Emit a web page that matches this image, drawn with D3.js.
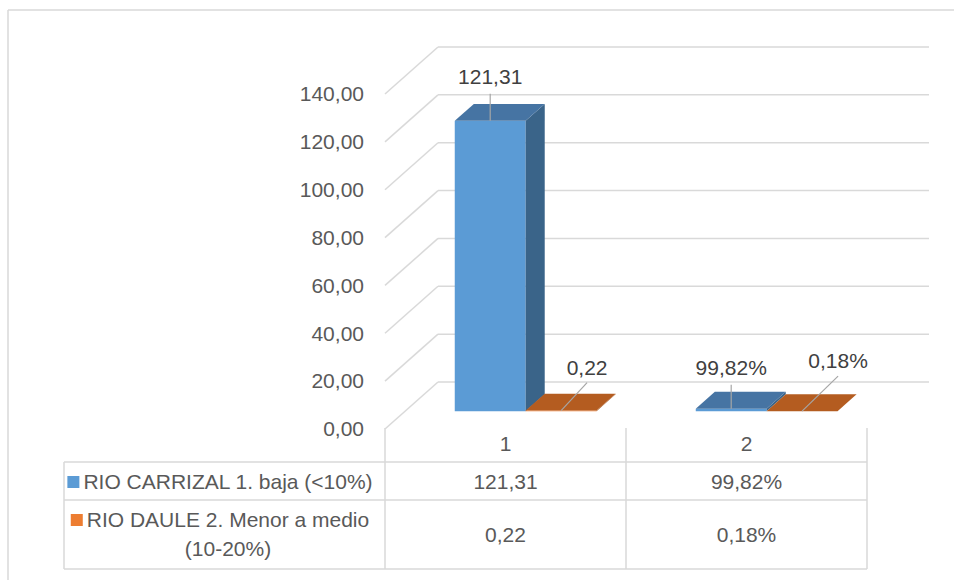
<!DOCTYPE html>
<html lang="es">
<head>
  <meta charset="UTF-8">
  <title>Rio Carrizal / Rio Daule</title>
  <script src="https://d3js.org/d3.v7.min.js"></script>
  <style>
    body { margin: 0; background: #fff; }
    svg { font-family: "Liberation Sans", Arial, sans-serif; }
    .axis-label { font-size: 21px; fill: #595959; }
    .table-text { font-size: 21px; fill: #595959; }
    .value-label { font-size: 21px; fill: #404040; }
  </style>
</head>
<body>
  <svg></svg>
  <script>
    // data
    const categories = ['1', '2'];
    const seriesNames = ['RIO CARRIZAL 1. baja (<10%)', 'RIO DAULE 2. Menor a medio (10-20%)'];
    const carrizalValues = [121.31, 0.9982];
    const dauleValues = [0.22, 0.0018];
    const carrizalLabels = ['121,31', '99,82%'];
    const dauleLabels = ['0,22', '0,18%'];
    const yTicks = [0, 20, 40, 60, 80, 100, 120, 140];
    const yTickLabels = ['0,00', '20,00', '40,00', '60,00', '80,00', '100,00', '120,00', '140,00'];

    const W = 954, H = 580;
    const svg = d3.select('svg').attr('width', W).attr('height', H);

    // 3d layout
    const x0 = 385, x1 = 867;     // front plane
    const DX = 53, DY = 47;       // full depth offset
    const zf = 0.38, zb = 0.74;   // bars depth range
    const backRight = 929;
    const grid = '#d9d9d9';

    const y = d3.scaleLinear().domain([0, 140]).range([429, 94]);
    const x = d3.scaleBand().domain(categories).range([x0, x1]);
    const xs = d3.scaleBand().domain(['a', 'b']).range([0, x.bandwidth()]).paddingOuter(0.7);

    // frame
    svg.append('line').attr('x1', 8).attr('x2', W).attr('y1', 10).attr('y2', 10)
      .attr('stroke', grid).attr('stroke-width', 1.5);
    svg.append('line').attr('x1', 8).attr('x2', 8).attr('y1', 10).attr('y2', H)
      .attr('stroke', grid).attr('stroke-width', 1.5);

    // walls
    const walls = svg.append('g');
    yTicks.forEach(t => {
      walls.append('line')
        .attr('x1', x0).attr('y1', y(t))
        .attr('x2', x0 + DX).attr('y2', y(t) - DY)
        .attr('stroke', grid).attr('stroke-width', 1.5);
      walls.append('line')
        .attr('x1', x0 + DX).attr('y1', y(t) - DY)
        .attr('x2', backRight).attr('y2', y(t) - DY)
        .attr('stroke', grid).attr('stroke-width', 1.5);
    });

    svg.append('g').selectAll('text')
      .data(yTicks)
      .enter().append('text')
      .attr('class', 'axis-label')
      .attr('x', 364)
      .attr('y', d => y(d))
      .attr('dy', '0.35em')
      .attr('text-anchor', 'end')
      .text((d, i) => yTickLabels[i]);

    // bars
    const bars = [];
    categories.forEach((c, i) => {
      bars.push({ cat: c, key: 'a', v: carrizalValues[i], label: carrizalLabels[i],
        front: '#5b9bd5', top: '#4674a3', side: '#3a6489' });
      bars.push({ cat: c, key: 'b', v: dauleValues[i], label: dauleLabels[i],
        front: '#ed7d31', top: '#b45c20', side: '#a0501a' });
    });
    const labelNudge = [[0, -27, -44], [26, -28, -43], [0, -24, -41], [36, -35, -50]];

    const pt = (px, v, z) => [px + z * DX, y(v) - z * DY];
    const g = svg.append('g');
    bars.forEach(b => {
      const a = x(b.cat) + xs(b.key), e = a + xs.bandwidth();
      g.append('polygon')
        .attr('points', [pt(a, 0, zf), pt(e, 0, zf), pt(e, b.v, zf), pt(a, b.v, zf)].join(' '))
        .attr('fill', b.front);
      g.append('polygon')
        .attr('points', [pt(e, 0, zf), pt(e, 0, zb), pt(e, b.v, zb), pt(e, b.v, zf)].join(' '))
        .attr('fill', b.side);
      g.append('polygon')
        .attr('points', [pt(a, b.v, zf), pt(e, b.v, zf), pt(e, b.v, zb), pt(a, b.v, zb)].join(' '))
        .attr('fill', b.top);
    });

    // value labels with leader lines
    bars.forEach((b, i) => {
      const [ax, ay] = pt(x(b.cat) + xs(b.key) + xs.bandwidth() / 2, b.v, zf);
      const n = labelNudge[i];
      svg.append('line')
        .attr('x1', ax).attr('y1', ay)
        .attr('x2', ax + n[0]).attr('y2', ay + n[1])
        .attr('stroke', '#a6a6a6').attr('stroke-width', 1.2);
      svg.append('text')
        .attr('class', 'value-label')
        .attr('x', ax + n[0])
        .attr('y', ay + n[2])
        .attr('dy', '0.35em')
        .attr('text-anchor', 'middle')
        .text(b.label);
    });

    // data table
    const tbl = svg.append('g');
    const rowY = [462, 500, 569];
    const tl = 64;
    rowY.forEach(ry => {
      tbl.append('line').attr('x1', tl).attr('x2', x1).attr('y1', ry).attr('y2', ry)
        .attr('stroke', grid).attr('stroke-width', 1.5);
    });
    tbl.append('line').attr('x1', tl).attr('x2', tl).attr('y1', 462).attr('y2', 569)
      .attr('stroke', grid).attr('stroke-width', 1.5);
    [x0, x(categories[1]), x1].forEach(vx => {
      tbl.append('line').attr('x1', vx).attr('x2', vx).attr('y1', 428).attr('y2', 569)
        .attr('stroke', grid).attr('stroke-width', 1.5);
    });

    tbl.selectAll('.cat').data(categories).enter().append('text')
      .attr('class', 'table-text')
      .attr('x', d => x(d) + x.bandwidth() / 2)
      .attr('y', 444).attr('dy', '0.35em')
      .attr('text-anchor', 'middle')
      .text(d => d);

    const rows = [
      { lines: ['RIO CARRIZAL 1. baja (<10%)'], ys: [482], cy: 482, labels: carrizalLabels, color: '#5b9bd5' },
      { lines: ['RIO DAULE 2. Menor a medio', '(10-20%)'], ys: [520, 549], cy: 535, labels: dauleLabels, color: '#ed7d31' }
    ];
    const cellMid = 220;
    rows.forEach(r => {
      const first = tbl.append('text')
        .attr('class', 'table-text')
        .attr('y', r.ys[0]).attr('dy', '0.35em')
        .attr('text-anchor', 'middle')
        .text(r.lines[0]);
      const w = first.node().getComputedTextLength();
      const keyX = cellMid - (w + 16) / 2;
      const tx = keyX + 16 + w / 2;
      first.attr('x', tx);
      if (r.lines[1]) {
        tbl.append('text')
          .attr('class', 'table-text')
          .attr('x', tx)
          .attr('y', r.ys[1]).attr('dy', '0.35em')
          .attr('text-anchor', 'middle')
          .text(r.lines[1]);
      }
      tbl.append('rect')
        .attr('x', keyX).attr('y', r.ys[0] - 6)
        .attr('width', 12).attr('height', 12)
        .attr('fill', r.color);
      categories.forEach((c, i) => {
        tbl.append('text')
          .attr('class', 'table-text')
          .attr('x', x(c) + x.bandwidth() / 2)
          .attr('y', r.cy).attr('dy', '0.35em')
          .attr('text-anchor', 'middle')
          .text(r.labels[i]);
      });
    });
  </script>
</body>
</html>
